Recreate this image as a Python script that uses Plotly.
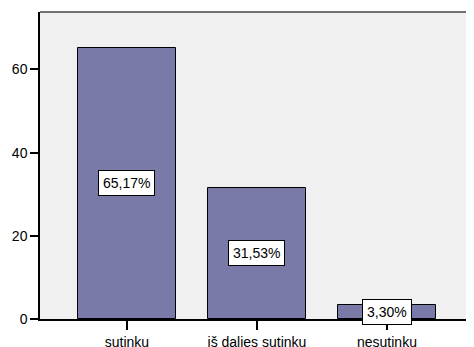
import plotly.graph_objects as go

categories = ["sutinku", "iš dalies sutinku", "nesutinku"]
values = [65.17, 31.53, 3.30]
labels = ["65,17%", "31,53%", "3,30%"]
y_ticks = [0, 20, 40, 60]

fig = go.Figure()
fig.add_trace(go.Bar(
    x=categories, y=values, width=0.754,
    marker=dict(color="rgb(122,122,168)", line=dict(color="black", width=1)),
    hoverinfo="skip",
))

for c, v, t in zip(categories, values, labels):
    fig.add_annotation(
        x=c, y=v / 2, text=t, showarrow=False,
        font=dict(family="Liberation Sans, Arial", size=14, color="black"),
        bgcolor="white", bordercolor="black", borderwidth=1, borderpad=4,
    )

# page body has an 8px default margin, so the figure is sized to fill the rest
fig.update_layout(
    width=466, height=339,
    margin=dict(l=32, r=1, t=4, b=28, autoexpand=False),
    paper_bgcolor="white", plot_bgcolor="#F0F0F0",
    showlegend=False,
    font=dict(family="Liberation Sans, Arial", size=14, color="black"),
    bargap=0,
)
fig.update_xaxes(
    range=[-0.669, 2.662], showgrid=False, zeroline=False, automargin=False,
    showline=True, linecolor="black", linewidth=1.5,
    ticks="outside", ticklen=9, tickcolor="black", tickwidth=1.5,
    tickfont=dict(size=14, color="black"),
)
fig.update_yaxes(
    range=[0, 73.8], tickvals=y_ticks, showgrid=False, zeroline=False, automargin=False,
    showline=True, linecolor="black", linewidth=1.5,
    ticks="outside", ticklen=8, tickcolor="black", tickwidth=1.5,
    tickfont=dict(size=14, color="black"),
)
fig.add_shape(type="line", xref="paper", yref="paper", x0=0, x1=1, y0=1, y1=1,
              line=dict(color="#444444", width=1.5))
fig.add_shape(type="line", xref="paper", yref="paper", x0=1, x1=1, y0=0, y1=1,
              line=dict(color="#777777", width=1.5))

fig.write_html("out.html")
